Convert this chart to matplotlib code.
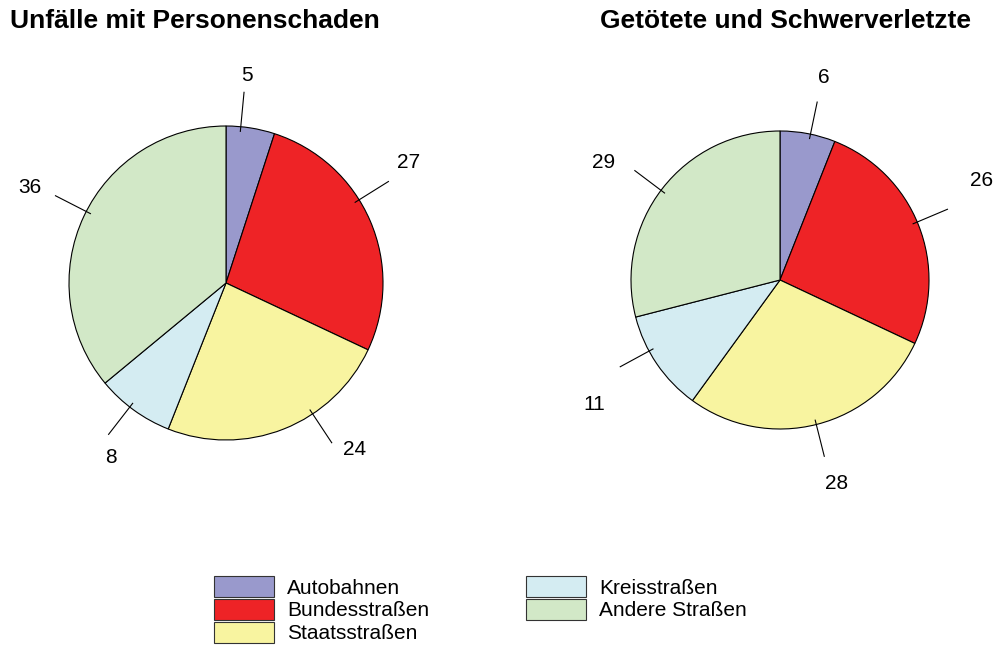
import numpy as np
import matplotlib.pyplot as plt

plt.rcParams['font.family'] = ['Liberation Sans', 'DejaVu Sans']

# Data (percent)
categories = ['Autobahnen', 'Bundesstraßen', 'Staatsstraßen', 'Kreisstraßen', 'Andere Straßen']
unfaelle = [5, 27, 24, 8, 36]
getoetete = [6, 26, 28, 11, 29]
titles = ['Unfälle mit Personenschaden', 'Getötete und Schwerverletzte']

colors = ['#9999cc', '#ee2326', '#f8f4a0', '#d4ecf2', '#d2e8c7']

# leader line / label angle nudges (deg) relative to slice middle,
# and label distance in radii, to sit labels where the original put them
line_nudge_l = [3.6, 8.6, 11.9, -1.8, -1.9]
text_nudge_l = [3.2, 10.0, 16.1, 2.5, -0.8]
text_dist_l = [1.33, 1.39, 1.34, 1.33, 1.39]
line_nudge_r = [-1.0, 1.3, -0.3, -5.7, 0.8]
text_nudge_r = [-1.5, 4.7, 1.0, -0.2, 4.2]
text_dist_r = [1.39, 1.51, 1.42, 1.50, 1.42]

W, H = 997, 648
dpi = 100
fig = plt.figure(figsize=(W / dpi, H / dpi), dpi=dpi)


def pie_axes(cx, cy, half):
    """Axes whose data units are pixels, centred at (cx, cy) from top-left."""
    return fig.add_axes([(cx - half) / W, (H - cy - half) / H, 2 * half / W, 2 * half / H])


def draw_pie(ax, values, radius, half, line_nudge, text_nudge, text_dist):
    ax.pie(values, colors=colors, radius=radius, startangle=90, counterclock=False,
           wedgeprops=dict(edgecolor='black', linewidth=0.8))
    frac = np.array(values) / np.sum(values)
    mids = 90 - (np.cumsum(frac) - frac / 2) * 360
    for i, v in enumerate(values):
        a = np.deg2rad(mids[i] + line_nudge[i])
        c, s = np.cos(a), np.sin(a)
        ax.plot([0.97 * radius * c, 1.22 * radius * c], [0.97 * radius * s, 1.22 * radius * s],
                color='black', lw=0.8, clip_on=False)
        t = np.deg2rad(mids[i] + text_nudge[i])
        ax.text(text_dist[i] * radius * np.cos(t), text_dist[i] * radius * np.sin(t), str(v),
                fontsize=15, ha='center', va='center', clip_on=False)
    # pie() sets its own limits, so set them afterwards
    ax.set_xlim(-half, half)
    ax.set_ylim(-half, half)
    ax.axis('off')


ax1 = pie_axes(226, 283, 225)
draw_pie(ax1, unfaelle, 157, 225, line_nudge_l, text_nudge_l, text_dist_l)
ax2 = pie_axes(780, 280, 215)
draw_pie(ax2, getoetete, 149, 215, line_nudge_r, text_nudge_r, text_dist_r)

fig.text(10 / W, 1 - 21 / H, titles[0], fontsize=19, fontweight='bold', ha='left', va='center')
fig.text(785 / W, 1 - 21 / H, titles[1], fontsize=19, fontweight='bold', ha='center', va='center')

handles = [plt.Rectangle((0, 0), 1, 1, facecolor=c, edgecolor='#333333', lw=0.8) for c in colors]
fig.legend(handles, categories, loc='upper left', bbox_to_anchor=(214 / W, 1 - 576 / H),
           ncol=2, frameon=False, fontsize=15, handlelength=2.9, handleheight=1.2,
           handletextpad=0.6, labelspacing=0.05, columnspacing=4.65,
           borderpad=0, borderaxespad=0)

fig.savefig('out.png', dpi=dpi)
